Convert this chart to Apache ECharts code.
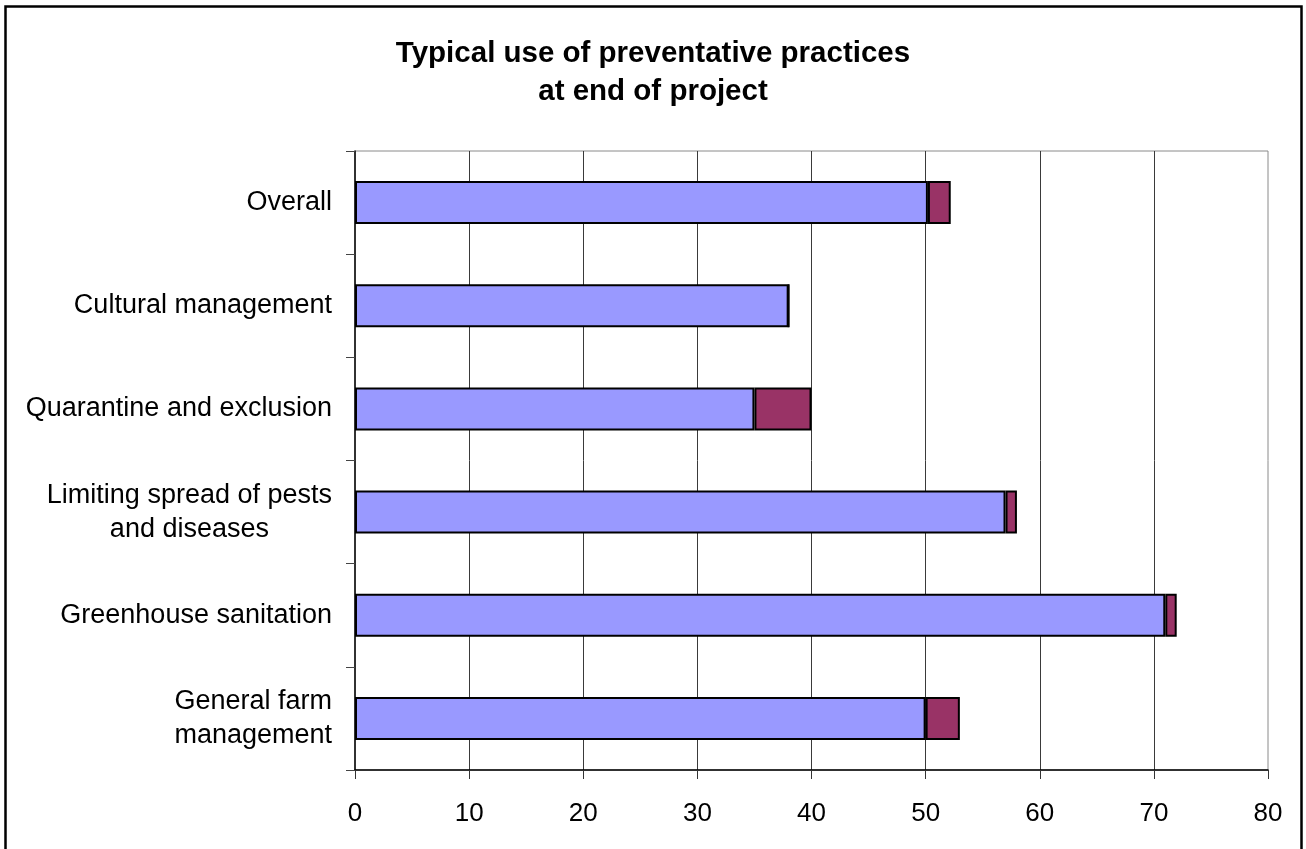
<!DOCTYPE html>
<html>
<head>
<meta charset="utf-8">
<title>Typical use of preventative practices at end of project</title>
<script src="https://cdn.jsdelivr.net/npm/echarts@6/dist/echarts.min.js"></script>
<style>
  html, body { margin: 0; padding: 0; background: #ffffff; }
  #chart { width: 1306px; height: 849px; }
</style>
</head>
<body>
<div id="chart"></div>
<script>
// Practice groups, listed from top to bottom
const categories = [
  'Overall',
  'Cultural management',
  'Quarantine and exclusion',
  'Limiting spread of pests\nand diseases',
  'Greenhouse sanitation',
  'General farm\nmanagement'
];
// Stacked segments for each practice group
const primaryValues = [50.2, 38, 35, 57, 71, 50];
const secondaryValues = [2, 0, 5, 1, 1, 3];
// Value axis ticks
const xTicks = [0, 10, 20, 30, 40, 50, 60, 70, 80];

const FONT = 'Liberation Sans, Arial, sans-serif';

const chart = echarts.init(document.getElementById('chart'), null, { renderer: 'canvas' });

chart.setOption({
  backgroundColor: '#ffffff',
  animation: false,
  title: {
    text: 'Typical use of preventative practices\nat end of project',
    left: 'center',
    top: 30,
    textStyle: {
      fontFamily: FONT,
      fontSize: 29.5,
      fontWeight: 'bold',
      color: '#000000',
      lineHeight: 38
    }
  },
  grid: {
    left: 355,
    right: 38,
    top: 151,
    bottom: 79,
    show: true,
    borderColor: '#8a8a8a',
    borderWidth: 1,
    backgroundColor: 'transparent',
    containLabel: false
  },
  xAxis: {
    type: 'value',
    min: xTicks[0],
    max: xTicks[xTicks.length - 1],
    interval: xTicks[1] - xTicks[0],
    axisLine: { show: true, lineStyle: { color: '#000000', width: 1.5 } },
    axisTick: { show: true, length: 9, inside: false, lineStyle: { color: '#333333', width: 1 } },
    axisLabel: {
      margin: 31,
      fontFamily: FONT,
      fontSize: 26,
      color: '#000000'
    },
    splitLine: {
      show: true,
      showMinLine: false,
      showMaxLine: false,
      lineStyle: { color: '#3a3a3a', width: 1 }
    }
  },
  yAxis: {
    type: 'category',
    data: categories,
    inverse: true,
    axisLine: { show: true, lineStyle: { color: '#000000', width: 1.5 } },
    axisTick: { show: true, length: 9, inside: false, alignWithLabel: false, lineStyle: { color: '#444444', width: 1 } },
    axisLabel: {
      margin: 23,
      align: 'right',
      formatter: function (value) {
        return value.split('\n').map(function (line) { return '{c|' + line + '}'; }).join('\n');
      },
      rich: {
        c: {
          align: 'center',
          fontFamily: FONT,
          fontSize: 27,
          lineHeight: 34,
          color: '#000000'
        }
      }
    },
    splitLine: { show: false }
  },
  series: [
    {
      name: 'Primary',
      type: 'bar',
      stack: 'use',
      data: primaryValues,
      barWidth: 43,
      itemStyle: { color: '#9999ff', borderColor: '#000000', borderWidth: 2 }
    },
    {
      name: 'Secondary',
      type: 'bar',
      stack: 'use',
      data: secondaryValues,
      barWidth: 43,
      itemStyle: { color: '#993366', borderColor: '#000000', borderWidth: 2 }
    }
  ],
  graphic: [
    {
      type: 'rect',
      shape: { x: 5.5, y: 6.5, width: 1296, height: 880 },
      style: { fill: 'none', stroke: '#000000', lineWidth: 2.5 },
      silent: true,
      z: 100
    }
  ]
});
</script>
</body>
</html>
